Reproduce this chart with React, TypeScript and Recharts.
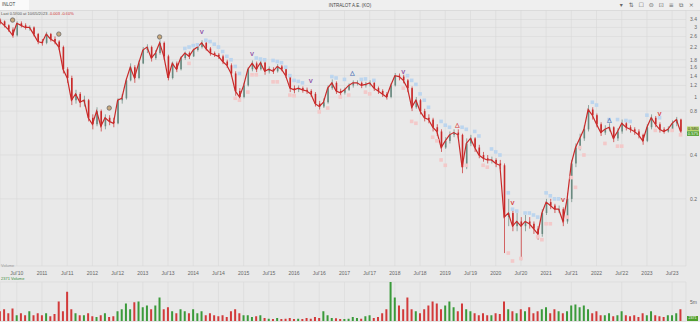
import React from 'react';
import { ComposedChart, Line, Bar, Scatter, XAxis, YAxis, CartesianGrid, Cell, ReferenceLine } from 'recharts';

// month index 0 = Mar 2010, one entry per month up to Sep 2023
const closes = [
  3.3, 3.1, 2.9, 2.65, 3.2, 3.1, 3.0, 3.0, 2.7, 2.4,
  2.35, 2.7, 2.5, 2.4, 2.2, 1.55, 1.35, 0.95, 1.05, 0.92,
  0.95, 0.72, 0.65, 0.8, 0.63, 0.72, 0.68, 0.66, 0.95, 0.98,
  1.3, 1.6, 1.35, 1.7, 2.1, 2.2, 1.85, 2.0, 2.35, 1.9,
  1.35, 1.7, 1.55, 1.85, 2.0, 1.9, 2.1, 2.2, 2.35, 2.15,
  2.0, 1.95, 1.9, 1.75, 1.65, 1.45, 1.1, 1.0, 1.2, 1.55,
  1.7, 1.55, 1.72, 1.5, 1.55, 1.5, 1.62, 1.55, 1.4, 1.15,
  1.12, 1.15, 1.12, 1.1, 1.05, 0.9, 0.86, 0.92, 1.15, 1.25,
  1.1, 1.07, 1.12, 1.2, 1.25, 1.25, 1.2, 1.22, 1.25, 1.15,
  1.1, 1.05, 1.0, 1.2, 1.4, 1.38, 1.3, 1.15, 0.85, 0.95,
  0.8, 0.72, 0.7, 0.62, 0.58, 0.45, 0.5, 0.55, 0.57, 0.55,
  0.33, 0.48, 0.52, 0.45, 0.4, 0.38, 0.37, 0.37, 0.35, 0.34,
  0.15, 0.16, 0.13, 0.14, 0.13, 0.14, 0.135, 0.125, 0.115, 0.16,
  0.19, 0.18, 0.17, 0.17, 0.14, 0.2, 0.35, 0.45, 0.52, 0.6,
  0.82, 0.75, 0.65, 0.57, 0.6, 0.62, 0.52, 0.58, 0.66, 0.62,
  0.6, 0.58, 0.55, 0.5, 0.62, 0.72, 0.65, 0.6, 0.58, 0.6,
  0.66, 0.7, 0.58,
];

const highs = [
  3.45, 3.35, 3.15, 3.0, 3.3, 3.3, 3.2, 3.1, 3.05, 2.75,
  2.5, 2.8, 2.75, 2.6, 2.45, 2.25, 1.6, 1.4, 1.12, 1.08,
  1.02, 0.97, 0.76, 0.85, 0.82, 0.76, 0.75, 0.72, 0.98, 1.05,
  1.35, 1.7, 1.65, 1.78, 2.2, 2.3, 2.25, 2.1, 2.45, 2.4,
  1.95, 1.75, 1.75, 1.9, 2.05, 2.05, 2.15, 2.3, 2.45, 2.4,
  2.2, 2.05, 2.0, 1.95, 1.8, 1.7, 1.5, 1.15, 1.25, 1.6,
  1.78, 1.75, 1.78, 1.75, 1.62, 1.6, 1.68, 1.66, 1.58, 1.42,
  1.2, 1.2, 1.18, 1.16, 1.13, 1.08, 0.94, 0.98, 1.2, 1.32,
  1.28, 1.14, 1.16, 1.24, 1.3, 1.3, 1.28, 1.27, 1.3, 1.27,
  1.18, 1.13, 1.08, 1.24, 1.46, 1.45, 1.42, 1.33, 1.18, 1.0,
  0.97, 0.83, 0.76, 0.72, 0.65, 0.6, 0.53, 0.58, 0.6, 0.6,
  0.56, 0.52, 0.55, 0.53, 0.47, 0.42, 0.4, 0.39, 0.38, 0.37,
  0.35, 0.2, 0.17, 0.16, 0.15, 0.155, 0.15, 0.14, 0.13, 0.17,
  0.2, 0.2, 0.185, 0.18, 0.175, 0.22, 0.37, 0.48, 0.56, 0.64,
  0.88, 0.85, 0.77, 0.67, 0.64, 0.66, 0.63, 0.61, 0.7, 0.68,
  0.64, 0.62, 0.6, 0.56, 0.65, 0.76, 0.74, 0.67, 0.62, 0.63,
  0.69, 0.73, 0.71,
];

const lows = [
  3.15, 3.0, 2.8, 2.55, 2.6, 3.0, 2.9, 2.85, 2.6, 2.3,
  2.25, 2.3, 2.4, 2.3, 2.1, 1.45, 1.25, 0.88, 0.9, 0.85,
  0.86, 0.68, 0.6, 0.63, 0.58, 0.6, 0.64, 0.62, 0.65, 0.9,
  0.96, 1.28, 1.25, 1.32, 1.68, 2.0, 1.75, 1.8, 1.95, 1.8,
  1.3, 1.32, 1.48, 1.52, 1.8, 1.82, 1.88, 2.05, 2.15, 2.08,
  1.92, 1.88, 1.82, 1.68, 1.58, 1.38, 1.02, 0.95, 0.98, 1.18,
  1.5, 1.48, 1.52, 1.42, 1.45, 1.44, 1.47, 1.5, 1.35, 1.08,
  1.06, 1.08, 1.07, 1.05, 1.0, 0.86, 0.82, 0.84, 0.9, 1.12,
  1.05, 1.02, 1.04, 1.1, 1.16, 1.2, 1.15, 1.16, 1.18, 1.1,
  1.05, 1.0, 0.96, 0.98, 1.18, 1.3, 1.24, 1.08, 0.8, 0.83,
  0.76, 0.68, 0.66, 0.58, 0.54, 0.42, 0.44, 0.48, 0.53, 0.52,
  0.3, 0.32, 0.46, 0.42, 0.38, 0.36, 0.35, 0.35, 0.33, 0.32,
  0.085, 0.13, 0.12, 0.12, 0.076, 0.12, 0.125, 0.115, 0.105, 0.11,
  0.155, 0.17, 0.16, 0.16, 0.13, 0.135, 0.19, 0.33, 0.43, 0.5,
  0.58, 0.7, 0.62, 0.54, 0.55, 0.58, 0.49, 0.5, 0.56, 0.59,
  0.57, 0.55, 0.52, 0.47, 0.49, 0.6, 0.62, 0.57, 0.56, 0.57,
  0.59, 0.63, 0.56,
];

// volume in millions
const volumes = [
  2.5, 3, 2, 3.2, 1.5, 2, 1.5, 2.5, 1.5, 2,
  1.5, 2, 1.2, 1.8, 5, 2.5, 7.5, 3, 2, 1.5,
  1.5, 2, 1.2, 1, 1.5, 2, 1, 1.2, 2.5, 3,
  4.5, 3, 4.8, 5, 3.5, 4, 3, 4, 6, 3,
  3.5, 2.5, 2, 3, 2.5, 2, 3, 2, 2.5, 1.5,
  2, 1.5, 1.2, 1.5, 1, 2.5, 3, 2, 1.5, 1.5,
  1, 1.2, 1.5, 0.8, 0.6, 0.5, 0.8, 0.5, 0.6, 0.8,
  0.5, 0.6, 0.5, 0.8, 0.6, 1, 0.8, 2.5, 1.5, 0.8,
  0.7, 0.5, 0.5, 0.6, 1, 0.8, 0.6, 1.2, 1.5, 0.8,
  1, 2, 3, 10, 6, 4, 3, 6, 3, 2.5,
  2, 3, 4, 5, 4.5, 3, 4, 5, 3.5, 2.5,
  4.5, 3, 2.5, 2, 1.5, 2, 1.5, 1.5, 2, 1.8,
  5, 3, 2.5, 2, 3, 2.5, 3.5, 2, 2.5, 3,
  3.5, 2, 3, 2.5, 2, 2.5, 4, 4.2, 3.5, 4,
  3, 2, 2.5, 1.5, 1.5, 2, 1.2, 1.5, 2.5, 1.5,
  1.2, 1.5, 1, 2, 1.5, 2.5, 1.5, 1.2, 1, 1.5,
  1.5, 2, 3,
];

const xTicks = [4, 10, 16, 22, 28, 34, 40, 46, 52, 58, 64, 70, 76, 82, 88, 94, 100, 106, 112, 118, 124, 130, 136, 142, 148, 154, 160];
const xTickLabels = [
  "Jul'10", '2011', "Jul'11", '2012', "Jul'12", '2013', "Jul'13", '2014', "Jul'14", '2015', "Jul'15", '2016', "Jul'16", '2017',
  "Jul'17", '2018', "Jul'18", '2019', "Jul'19", '2020', "Jul'20", '2021', "Jul'21", '2022', "Jul'22", '2023', "Jul'23",
];
// 0.6 sits under the price tags, as in the source
const priceTicks = [0.2, 0.4, 0.8, 1, 1.2, 1.4, 1.6, 1.8, 2.2, 2.6, 3, 3.4];

// resistance (above) / support (below) markers: [month, price]
const blueMarks = [
  [44, 2.15], [45, 2.2], [46, 2.25], [47, 2.28], [49, 2.45], [50, 2.4], [51, 2.3], [52, 2.2], [53, 2.05], [54, 1.9],
  [55, 1.8], [56, 1.62], [57, 1.45], [61, 1.85], [62, 1.82], [63, 1.8], [65, 1.78], [66, 1.75], [67, 1.72], [68, 1.6],
  [69, 1.4], [70, 1.3], [71, 1.28], [72, 1.25], [79, 1.38], [80, 1.35], [82, 1.32], [86, 1.32], [87, 1.33], [89, 1.3],
  [97, 1.4], [98, 1.3], [99, 1.22], [100, 1.05], [101, 0.95], [102, 0.85], [105, 0.68], [106, 0.64], [107, 0.62],
  [110, 0.62], [111, 0.6], [113, 0.58], [114, 0.54], [117, 0.44], [118, 0.42], [119, 0.4], [121, 0.22], [122, 0.17],
  [123, 0.165], [125, 0.16], [126, 0.16], [127, 0.155], [128, 0.15], [130, 0.22], [131, 0.21], [132, 0.2], [133, 0.2],
  [141, 0.92], [142, 0.88], [145, 0.7], [147, 0.7], [149, 0.69], [150, 0.68], [154, 0.75], [157, 0.72],
];
const pinkMarks = [
  [45, 1.7], [56, 0.98], [57, 0.95], [59, 1.08], [60, 1.42], [61, 1.42], [65, 1.27], [66, 1.27], [69, 1.03], [70, 1.02],
  [76, 0.79], [78, 0.84], [81, 1.0], [83, 1.03], [87, 1.08], [88, 1.05], [96, 1.15], [98, 0.68], [99, 0.66], [103, 0.53],
  [104, 0.5], [105, 0.37], [106, 0.34], [111, 0.34], [115, 0.34], [116, 0.33], [121, 0.085], [122, 0.075], [124, 0.078],
  [128, 0.11], [129, 0.105], [130, 0.135], [131, 0.135], [135, 0.15], [136, 0.28], [137, 0.24], [138, 0.45], [139, 0.4],
  [144, 0.48], [147, 0.46], [148, 0.46], [156, 0.59], [160, 0.59], [162, 0.55],
];

// event markers: [month, price]
const circleEvents = [[3, 3.37], [14, 2.7], [26, 0.84], [38, 2.58]];
const purpleDownEvents = [[48, 2.79], [60, 1.97], [74, 1.29], [96, 1.48]];
const redDownEvents = [[122, 0.188], [134, 0.197], [157, 0.76]];
const blueUpEvents = [[84, 1.46], [145, 0.69]];
const redUpEvents = [[109, 0.64]];

const UP = '#6a8a80';
const DOWN = '#c92a2a';

const candles = closes.map((c, i) => ({
  m: i,
  o: i === 0 ? 3.35 : closes[i - 1],
  c,
  h: highs[i],
  l: lows[i],
  v: volumes[i],
}));
const toPts = (arr: number[][]) => arr.map(([m, v]) => ({ m, v }));

const Candle = (props: any) => {
  const { x, y, width, height, payload } = props;
  if (height == null || !payload) return null;
  const { o, c, h, l } = payload;
  const lh = Math.log(h);
  const span = lh - Math.log(l) || 1;
  const toY = (v: number) => y + (height * (lh - Math.log(v))) / span;
  const color = c >= o ? UP : DOWN;
  const mid = x + width / 2;
  const top = toY(Math.max(o, c));
  const bot = toY(Math.min(o, c));
  return (
    <g>
      <line x1={mid} x2={mid} y1={y} y2={y + height} stroke={color} strokeWidth={0.7} />
      <rect x={mid - 0.8} y={top} width={1.6} height={Math.max(0.8, bot - top)} fill={color} />
    </g>
  );
};

const square = (fill: string) => (p: any) => <rect x={p.cx - 1.8} y={p.cy - 1.8} width={3.6} height={3.6} fill={fill} />;
const glyph = (ch: string, fill: string) => (p: any) => (
  <text x={p.cx} y={p.cy} textAnchor="middle" dominantBaseline="central" fontSize={6} fontWeight="bold" fill={fill}>{ch}</text>
);
const ring = (p: any) => <circle cx={p.cx} cy={p.cy} r={2.2} fill="#c9a97c" stroke="#6b6b6b" strokeWidth={0.8} />;

const PriceTag = (props: any) => {
  const vb = props.viewBox || {};
  const x = vb.x + vb.width + 1;
  const y = vb.y;
  return (
    <g fontSize={4.2} fontFamily="Arial, 'Liberation Sans', sans-serif">
      <rect x={x} y={y - 5} width={12} height={4.6} fill="#b9d86c" />
      <text x={x + 6} y={y - 2.7} textAnchor="middle" dominantBaseline="central" fill="#333">0.580</text>
      <rect x={x} y={y - 0.2} width={12} height={4.6} fill="#4e9e2c" />
      <text x={x + 6} y={y + 2.1} textAnchor="middle" dominantBaseline="central" fill="#fff">0.575</text>
    </g>
  );
};

const tickStyle = { fontSize: 5, fill: '#666', fontFamily: "Arial, 'Liberation Sans', sans-serif" };
const RightTick = (props: any) => (
  <text x={props.x + 3} y={props.y} textAnchor="end" dominantBaseline="central" {...tickStyle}>
    {props.payload.value}
  </text>
);

const icons = ['▾', '⇅', '☐', '⊜', '⊡', '≡', '⧉', '×'];

export default function App() {
  return (
    <div style={{ position: 'absolute', left: 0, top: 0, width: 700, height: 322, background: '#e9e9e9', overflow: 'hidden', fontFamily: "Arial, 'Liberation Sans', sans-serif" }}>
      <div style={{ position: 'absolute', left: 0, top: 0, width: 700, height: 10, background: '#efefef', borderBottom: '1px solid #dcdcdc' }} />
      <div style={{ position: 'absolute', left: 0, top: 0, width: 27, height: 10, background: '#fafafa', fontSize: 4.5, lineHeight: '10px', color: '#444', paddingLeft: 2 }}>INLOT</div>
      <div style={{ position: 'absolute', left: 0, width: 700, top: 0, textAlign: 'center', fontSize: 4.5, lineHeight: '11px', color: '#444' }}>INTRALOT A.E. (KO)</div>
      <div style={{ position: 'absolute', left: 618, top: 0, display: 'flex', gap: 3.5, fontSize: 6, lineHeight: '10px', color: '#666', fontFamily: "'DejaVu Sans', sans-serif" }}>
        {icons.map((c, i) => <span key={i} style={{ width: 6.5, textAlign: 'center' }}>{c}</span>)}
      </div>
      <div style={{ position: 'absolute', left: 1, top: 11, fontSize: 4, color: '#555', whiteSpace: 'nowrap' }}>
        Last 0.5800 at 10/05/2023 <span style={{ color: '#d03030' }}>-0.003 -0.60%</span>
      </div>

      <div style={{ position: 'absolute', left: 0, top: 10 }}>
        <ComposedChart width={700} height={268} data={candles} margin={{ top: 0, right: 0, bottom: 0, left: 0 }}>
          <CartesianGrid stroke="#d9d9d9" strokeWidth={0.6} />
          <XAxis dataKey="m" type="number" domain={[0, 163.3]} ticks={xTicks} allowDataOverflow
            tickFormatter={(v: number) => xTickLabels[xTicks.indexOf(v)] ?? ''} height={12}
            axisLine={false} tickLine={false} tick={tickStyle} tickSize={3} interval={0} />
          <YAxis orientation="right" scale="log" domain={[0.0693, 3.95]} ticks={priceTicks} allowDataOverflow
            width={14} axisLine={false} tickLine={false} tick={<RightTick />} interval={0} />
          <Scatter data={toPts(blueMarks)} dataKey="v" shape={square('#bcd5ee')} isAnimationActive={false} />
          <Scatter data={toPts(pinkMarks)} dataKey="v" shape={square('#f3c9c9')} isAnimationActive={false} />
          <Line dataKey="c" stroke={DOWN} strokeWidth={1.2} dot={false} isAnimationActive={false} />
          <Bar dataKey={(d: any) => [d.l, d.h]} barSize={3} shape={<Candle />} isAnimationActive={false} />
          <Scatter data={toPts(circleEvents)} dataKey="v" shape={ring} isAnimationActive={false} />
          <Scatter data={toPts(purpleDownEvents)} dataKey="v" shape={glyph('V', '#8e4fa6')} isAnimationActive={false} />
          <Scatter data={toPts(redDownEvents)} dataKey="v" shape={glyph('V', '#d83a3a')} isAnimationActive={false} />
          <Scatter data={toPts(blueUpEvents)} dataKey="v" shape={glyph('△', '#4a6fb5')} isAnimationActive={false} />
          <Scatter data={toPts(redUpEvents)} dataKey="v" shape={glyph('△', '#d83a3a')} isAnimationActive={false} />
          <ReferenceLine y={closes[closes.length - 1]} stroke="none" ifOverflow="visible" label={<PriceTag />} />
        </ComposedChart>
      </div>

      <div style={{ position: 'absolute', left: 1, top: 263, fontSize: 4, color: '#999' }}>Volume</div>
      <div style={{ position: 'absolute', left: 1, top: 276, fontSize: 4, color: '#3c8c3c' }}>2371 Volume</div>

      <div style={{ position: 'absolute', left: 0, top: 280 }}>
        <ComposedChart width={700} height={42} data={candles} margin={{ top: 2, right: 0, bottom: 1, left: 0 }}>
          <CartesianGrid stroke="#d9d9d9" strokeWidth={0.6} />
          <XAxis dataKey="m" type="number" domain={[0, 163.3]} ticks={xTicks} hide allowDataOverflow />
          <YAxis orientation="right" domain={[0, 10]} ticks={[5]} width={14} axisLine={false} tickLine={false}
            tick={(p: any) => <RightTick {...p} payload={{ value: '5m' }} />} />
          <Bar dataKey="v" barSize={2} isAnimationActive={false}>
            {candles.map((d, i) => <Cell key={i} fill={d.c >= d.o ? '#3a9a3a' : '#d23a3a'} />)}
          </Bar>
        </ComposedChart>
      </div>
      <div style={{ position: 'absolute', left: 687, top: 316, width: 11, height: 5, background: '#4e9e2c', color: '#fff', fontSize: 3.6, lineHeight: '5px', textAlign: 'center' }}>2371</div>
    </div>
  );
}
